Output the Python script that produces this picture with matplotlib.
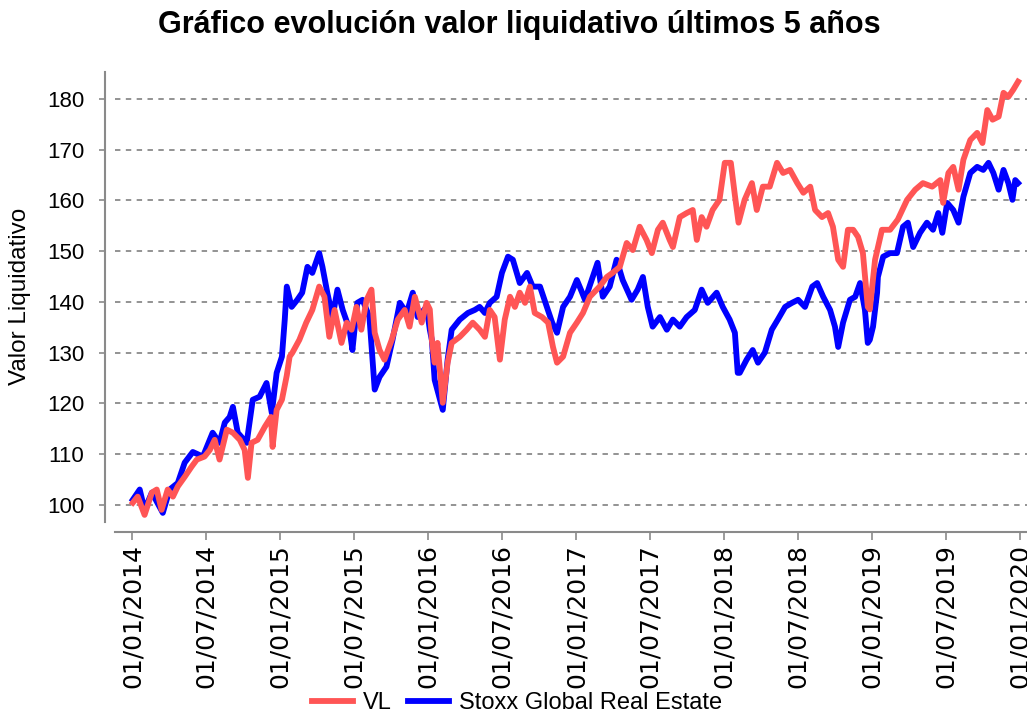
import pandas as pd
import matplotlib
matplotlib.use('Agg')
import matplotlib.pyplot as plt
import matplotlib.dates as mdates

plt.rcParams['font.family'] = ['Liberation Sans', 'DejaVu Sans']

# Valor liquidativo del fondo (VL)
vl_dates = [
    '2014-01-02', '2014-01-14', '2014-01-31', '2014-02-18', '2014-03-02', '2014-03-14',
    '2014-03-29', '2014-04-11', '2014-04-23', '2014-05-10', '2014-05-27', '2014-06-09',
    '2014-06-28', '2014-07-11', '2014-07-23', '2014-08-04', '2014-08-22', '2014-09-06',
    '2014-09-23', '2014-10-05', '2014-10-13', '2014-10-22', '2014-11-06', '2014-11-24',
    '2014-12-09', '2014-12-13', '2014-12-23', '2015-01-05', '2015-01-17', '2015-01-24',
    '2015-01-31', '2015-02-17', '2015-03-06', '2015-03-21', '2015-04-07', '2015-04-20',
    '2015-05-02', '2015-05-15', '2015-06-01', '2015-06-14', '2015-06-26', '2015-07-08',
    '2015-07-20', '2015-08-02', '2015-08-14', '2015-08-22', '2015-09-03', '2015-09-15',
    '2015-10-03', '2015-10-18', '2015-11-04', '2015-11-16', '2015-11-29', '2015-12-16',
    '2015-12-28', '2016-01-05', '2016-01-10', '2016-01-17', '2016-01-24', '2016-02-06',
    '2016-02-18', '2016-02-28', '2016-03-19', '2016-04-05', '2016-04-20', '2016-05-07',
    '2016-05-20', '2016-06-01', '2016-06-13', '2016-06-26', '2016-07-08', '2016-07-21',
    '2016-08-02', '2016-08-14', '2016-08-27', '2016-09-08', '2016-09-20', '2016-10-08',
    '2016-10-23', '2016-11-04', '2016-11-14', '2016-11-29', '2016-12-16', '2017-01-02',
    '2017-01-17', '2017-02-03', '2017-02-27', '2017-03-17', '2017-03-31', '2017-04-18',
    '2017-05-05', '2017-05-20', '2017-06-06', '2017-06-23', '2017-07-06', '2017-07-21',
    '2017-08-02', '2017-08-19', '2017-08-27', '2017-09-13', '2017-09-30', '2017-10-15',
    '2017-10-25', '2017-11-06', '2017-11-18', '2017-12-03', '2017-12-20', '2018-01-02',
    '2018-01-17', '2018-01-27', '2018-02-05', '2018-02-20', '2018-03-10', '2018-03-22',
    '2018-04-06', '2018-04-23', '2018-05-11', '2018-05-26', '2018-06-12', '2018-06-30',
    '2018-07-15', '2018-08-01', '2018-08-13', '2018-08-30', '2018-09-14', '2018-09-26',
    '2018-10-09', '2018-10-21', '2018-11-02', '2018-11-15', '2018-11-27', '2018-12-09',
    '2018-12-21', '2018-12-26', '2019-01-08', '2019-01-25', '2019-02-14', '2019-03-05',
    '2019-03-28', '2019-04-17', '2019-05-06', '2019-05-29', '2019-06-18', '2019-06-25',
    '2019-07-08', '2019-07-20', '2019-08-02', '2019-08-14', '2019-08-31', '2019-09-17',
    '2019-09-30', '2019-10-12', '2019-10-25', '2019-11-09', '2019-11-21', '2019-12-03',
    '2019-12-15', '2019-12-27',
]
vl_values = [
    100.4, 101.6, 98.0, 102.4, 103.0, 99.0,
    103.0, 101.6, 103.6, 105.5, 107.5, 108.9,
    109.5, 110.8, 112.8, 108.9, 114.8, 114.2,
    112.8, 110.8, 105.3, 112.2, 112.8, 115.4,
    117.3, 111.4, 118.7, 120.7, 125.5, 129.2,
    130.0, 132.5, 135.9, 138.4, 143.0, 141.0,
    133.1, 138.4, 131.9, 135.9, 134.5, 139.0,
    134.5, 140.4, 142.4, 133.9, 130.5, 128.6,
    132.5, 136.5, 138.4, 135.1, 141.0, 135.9,
    139.8, 138.5, 132.5, 128.0, 131.9, 120.1,
    128.0, 131.9, 133.1, 134.5, 135.9, 134.5,
    133.1, 138.4, 137.0, 128.6, 136.5, 141.0,
    139.0, 141.8, 139.8, 143.0, 137.8, 137.0,
    135.9, 131.1, 128.0, 129.2, 133.9, 135.9,
    137.8, 141.0, 143.0, 144.9, 145.7, 146.9,
    151.6, 150.2, 154.8, 152.2, 149.6, 154.2,
    155.6, 152.2, 150.8, 156.7, 157.5, 158.1,
    152.2, 156.7, 154.8, 158.1, 160.1, 167.4,
    167.4, 161.0, 155.6, 160.1, 163.4, 158.1,
    162.7, 162.7, 167.4, 165.4, 166.0, 163.4,
    161.5, 162.7, 158.1, 156.7, 157.5, 154.8,
    148.3, 146.9, 154.2, 154.2, 152.8, 149.6,
    139.0, 138.5, 148.3, 154.2, 154.2, 156.2,
    160.1, 162.1, 163.4, 162.7, 164.0, 159.5,
    165.4, 166.6, 162.1, 168.0, 171.9, 173.3,
    171.3, 177.8, 175.9, 176.5, 181.2, 180.4,
    181.8, 183.4,
]

# Indice Stoxx Global Real Estate (base 100)
idx_dates = [
    '2014-01-02', '2014-01-19', '2014-01-31', '2014-02-18', '2014-03-17', '2014-04-03',
    '2014-04-23', '2014-05-10', '2014-05-30', '2014-06-24', '2014-07-18', '2014-08-04',
    '2014-08-17', '2014-08-29', '2014-09-06', '2014-09-18', '2014-10-10', '2014-10-25',
    '2014-11-11', '2014-11-28', '2014-12-11', '2014-12-23', '2015-01-05', '2015-01-12',
    '2015-01-17', '2015-01-29', '2015-02-12', '2015-02-24', '2015-03-09', '2015-03-21',
    '2015-04-07', '2015-04-15', '2015-04-27', '2015-05-10', '2015-05-22', '2015-06-04',
    '2015-06-21', '2015-06-28', '2015-07-10', '2015-07-23', '2015-08-09', '2015-08-22',
    '2015-09-03', '2015-09-20', '2015-10-05', '2015-10-23', '2015-11-09', '2015-11-24',
    '2015-12-06', '2015-12-28', '2016-01-05', '2016-01-10', '2016-01-17', '2016-02-06',
    '2016-02-18', '2016-02-28', '2016-03-19', '2016-04-08', '2016-04-25', '2016-05-07',
    '2016-05-20', '2016-06-01', '2016-06-18', '2016-07-01', '2016-07-16', '2016-07-28',
    '2016-08-14', '2016-09-01', '2016-09-15', '2016-10-03', '2016-10-20', '2016-11-02',
    '2016-11-14', '2016-11-29', '2016-12-16', '2017-01-02', '2017-01-14', '2017-01-22',
    '2017-02-10', '2017-02-22', '2017-03-07', '2017-03-24', '2017-04-10', '2017-04-25',
    '2017-05-17', '2017-06-01', '2017-06-14', '2017-06-26', '2017-07-08', '2017-07-26',
    '2017-08-12', '2017-08-27', '2017-09-13', '2017-09-30', '2017-10-20', '2017-11-06',
    '2017-11-21', '2017-12-13', '2017-12-28', '2018-01-14', '2018-01-27', '2018-02-03',
    '2018-02-08', '2018-02-25', '2018-03-12', '2018-03-25', '2018-04-11', '2018-04-28',
    '2018-05-13', '2018-05-31', '2018-06-17', '2018-07-02', '2018-07-19', '2018-08-06',
    '2018-08-18', '2018-09-02', '2018-09-19', '2018-10-01', '2018-10-09', '2018-10-21',
    '2018-11-07', '2018-11-20', '2018-12-02', '2018-12-14', '2018-12-21', '2018-12-26',
    '2019-01-03', '2019-01-13', '2019-01-15', '2019-01-28', '2019-02-14', '2019-03-03',
    '2019-03-18', '2019-03-30', '2019-04-12', '2019-04-29', '2019-05-16', '2019-05-31',
    '2019-06-13', '2019-06-23', '2019-07-05', '2019-07-20', '2019-08-02', '2019-08-14',
    '2019-08-31', '2019-09-17', '2019-10-02', '2019-10-15', '2019-10-27', '2019-11-09',
    '2019-11-21', '2019-12-03', '2019-12-13', '2019-12-20', '2019-12-27',
]
idx_values = [
    101.0, 103.0, 99.0, 102.4, 98.4, 103.0,
    104.3, 108.3, 110.4, 109.5, 114.2, 112.2,
    116.2, 117.3, 119.3, 114.2, 112.2, 120.7,
    121.3, 124.0, 118.1, 126.0, 129.2, 136.5,
    143.0, 139.0, 140.4, 141.8, 146.9, 145.7,
    149.6, 146.9, 141.8, 137.0, 142.4, 138.4,
    134.5, 130.5, 139.8, 140.4, 137.0, 122.7,
    125.2, 127.2, 132.5, 139.8, 137.8, 141.8,
    137.0, 139.0, 134.5, 132.5, 124.6, 118.7,
    128.6, 134.5, 136.5, 137.8, 138.4, 139.0,
    137.8, 139.8, 141.0, 145.7, 148.9, 148.3,
    143.7, 145.7, 143.0, 143.0, 139.0, 135.9,
    133.9, 139.0, 141.0, 144.3, 142.0, 140.4,
    144.9, 147.7, 141.0, 143.0, 148.3, 144.3,
    140.4, 142.4, 144.9, 139.0, 135.1, 137.0,
    134.5, 136.5, 135.1, 137.0, 138.4, 142.4,
    139.8, 141.8, 139.0, 136.5, 133.9, 126.0,
    126.0, 128.6, 130.5, 128.0, 130.0, 134.5,
    136.5, 139.0, 139.8, 140.4, 139.0, 143.0,
    143.7, 141.0, 138.4, 135.1, 131.1, 135.9,
    140.4, 141.0, 143.7, 138.4, 131.9, 132.5,
    135.1, 141.8, 144.9, 148.9, 149.6, 149.6,
    154.8, 155.6, 150.8, 153.6, 155.6, 154.2,
    157.5, 153.6, 159.5, 158.1, 155.6, 160.7,
    165.4, 166.6, 166.0, 167.4, 165.4, 162.1,
    166.0, 163.4, 160.1, 164.0, 163.4,
]

y_ticks = [100, 110, 120, 130, 140, 150, 160, 170, 180]

vl = pd.Series(vl_values, index=pd.to_datetime(vl_dates))
idx = pd.Series(idx_values, index=pd.to_datetime(idx_dates))

fig = plt.figure(figsize=(10.27, 7.15), dpi=100)
ax = fig.add_axes([115 / 1027, 1 - 522 / 715, 912 / 1027, 450 / 715])

ax.plot(vl.index, vl.values, color='#ff5555', lw=4.2, label='VL', zorder=3)
ax.plot(idx.index, idx.values, color='#0000ff', lw=4.2, label='Stoxx Global Real Estate', zorder=2)

ax.set_xlim(pd.Timestamp('2013-11-19'), pd.Timestamp('2020-01-18'))
ax.set_ylim(96.6, 185.3)
ax.set_yticks(y_ticks)

ax.xaxis.set_major_locator(mdates.MonthLocator(bymonth=[1, 7]))
ax.xaxis.set_major_formatter(mdates.DateFormatter('%d/%m/%Y'))

# grid y ejes
ax.set_axisbelow(True)
ax.yaxis.grid(True, linestyle=(0, (3, 3)), color='#8a8a8a', lw=1.3)

for s in ['top', 'right']:
    ax.spines[s].set_visible(False)
for s in ['left', 'bottom']:
    ax.spines[s].set_position(('outward', 7.5))
    ax.spines[s].set_color('#8a8a8a')
    ax.spines[s].set_linewidth(1.5)

ax.tick_params(axis='y', length=4.5, width=1.2, color='#8a8a8a', pad=10, labelsize=16)
ax.tick_params(axis='x', length=5.5, width=1.2, color='#8a8a8a', pad=3, labelsize=18,
               labelrotation=90)
for lab in ax.get_xticklabels():
    lab.set_family('DejaVu Sans')

fig.text(519 / 1027, 1 - 25 / 715, 'Gráfico evolución valor liquidativo últimos 5 años',
         ha='center', va='center', fontsize=22, fontweight='bold')
fig.text(20 / 1027, 1 - 296 / 715, 'Valor Liquidativo', rotation=90,
         ha='center', va='center', fontsize=17.5)

fig.legend(loc='center', bbox_to_anchor=(517 / 1027, 1 - 703 / 715), ncol=2,
           frameon=False, fontsize=17, handlelength=1.75, handletextpad=0.4,
           columnspacing=0.7)

fig.savefig('out.png', dpi=100)
